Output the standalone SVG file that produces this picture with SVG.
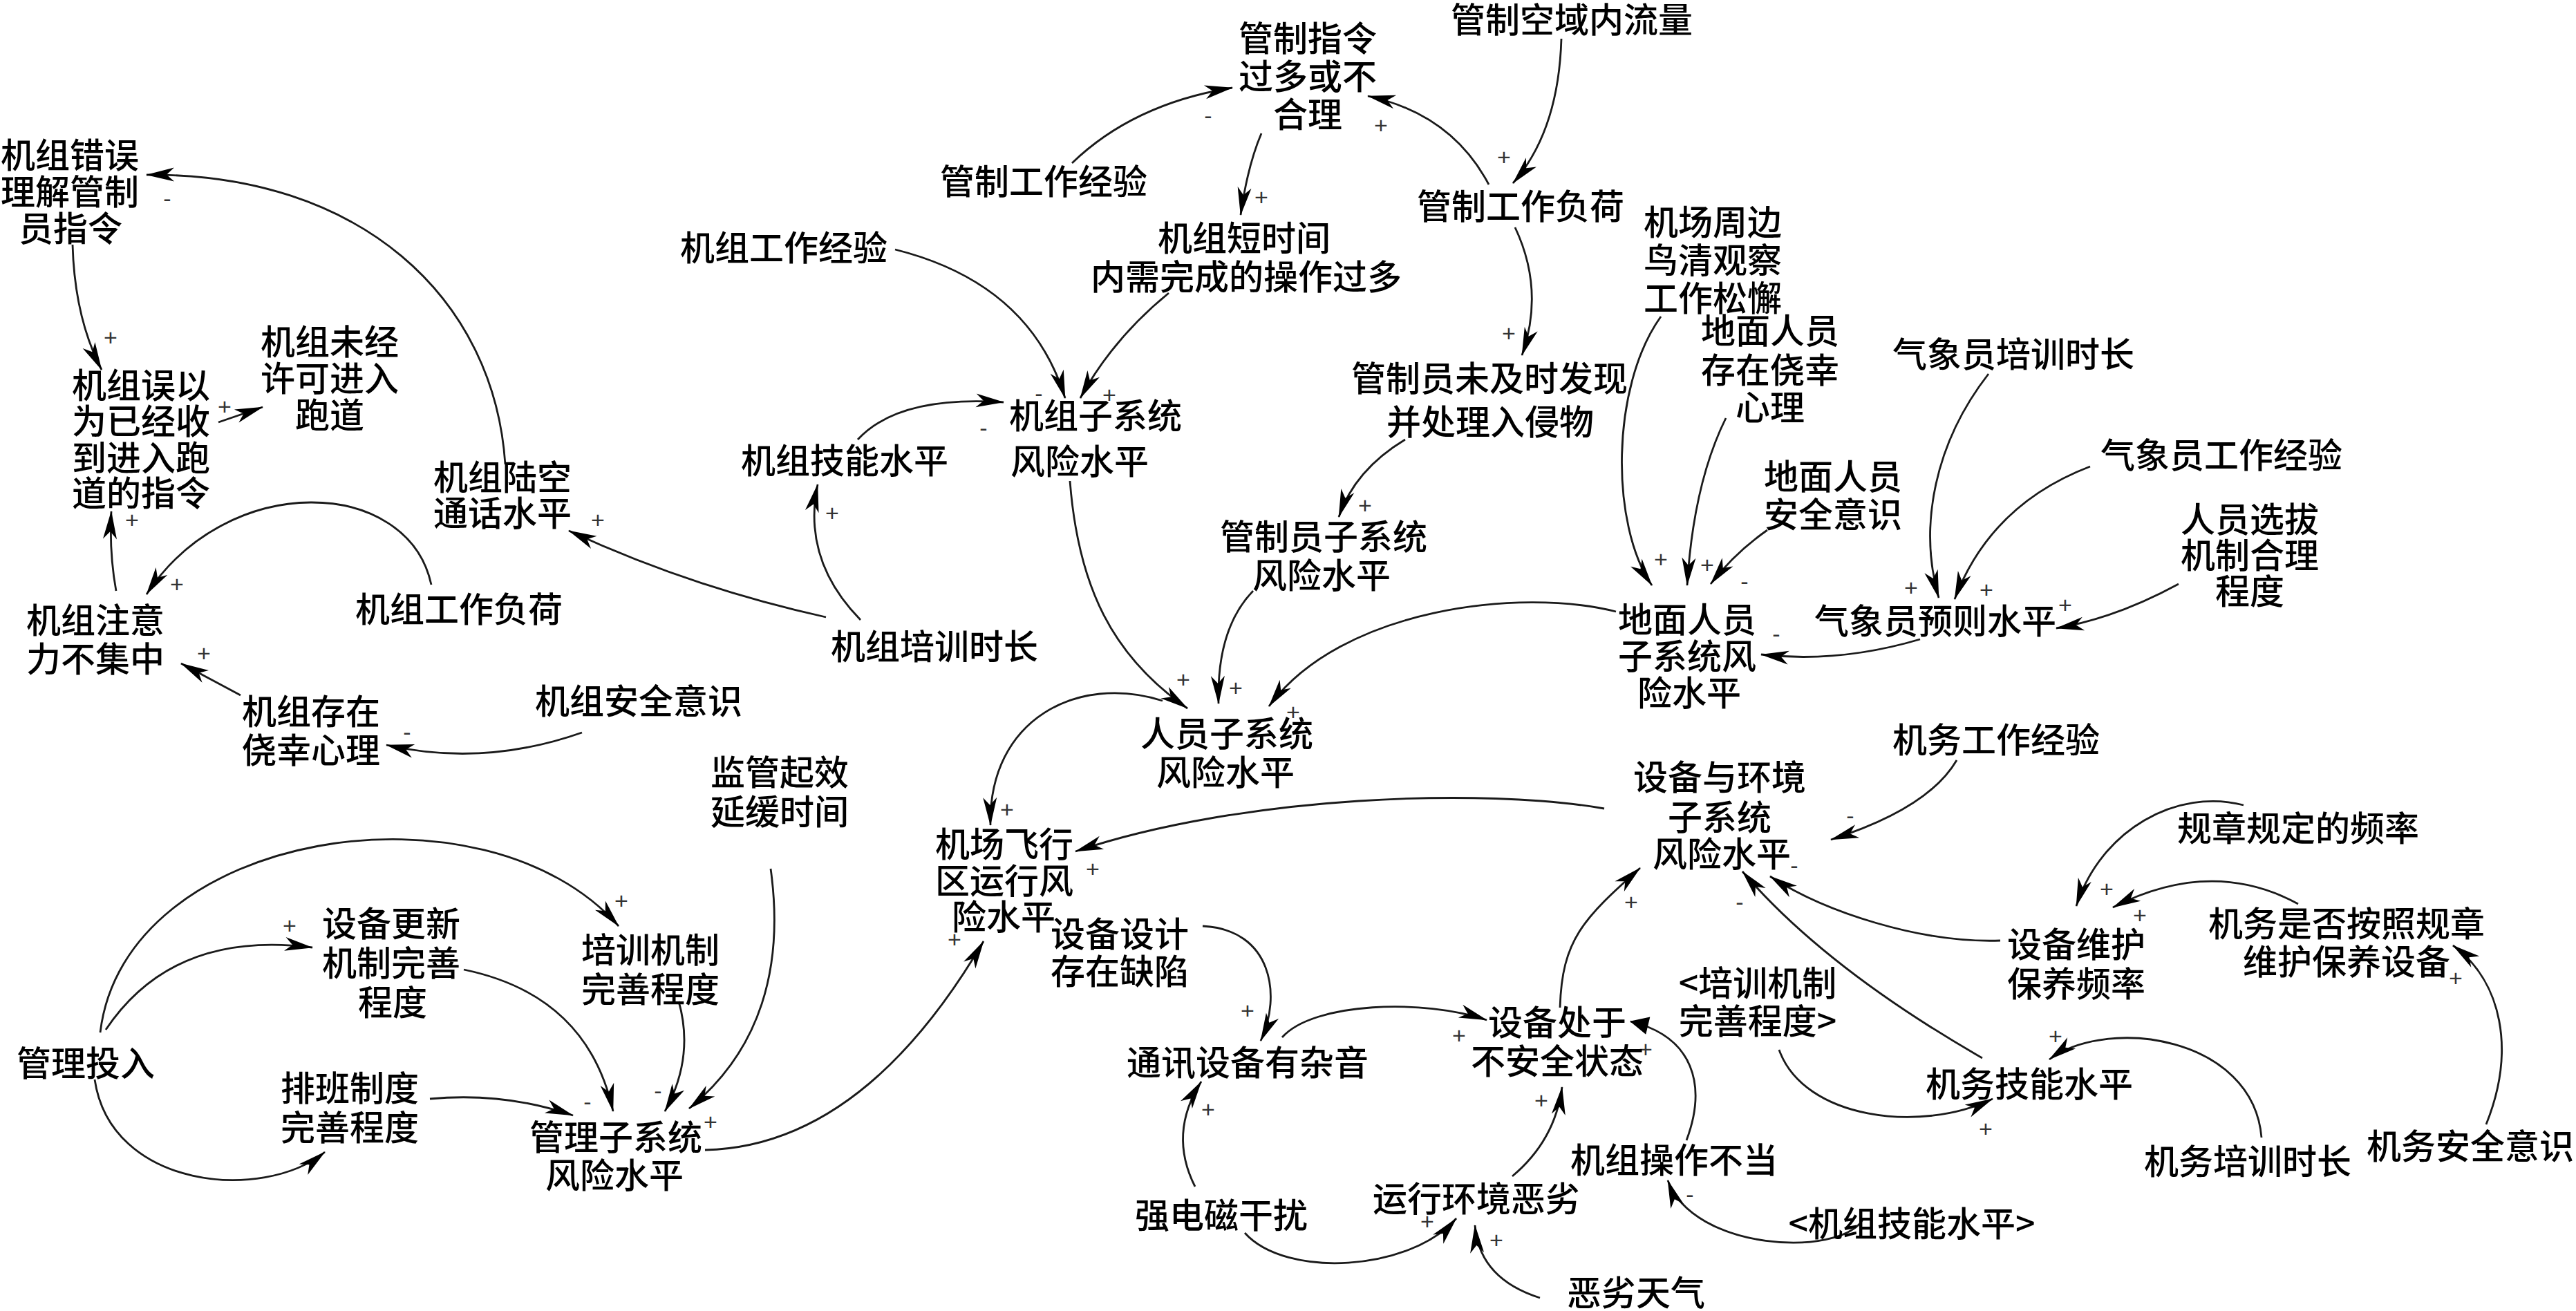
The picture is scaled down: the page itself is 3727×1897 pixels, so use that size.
<svg xmlns="http://www.w3.org/2000/svg" width="3727" height="1897" viewBox="0 0 3727 1897">
<defs>
<style>
.t{font-family:"Noto Sans CJK SC","Noto Sans CJK JP",sans-serif;font-size:50px;font-weight:500;fill:#000;text-anchor:middle}
.c{fill:none;stroke:#1a1a1a;stroke-width:2.8}
.a{marker-end:url(#ah)}
.f{marker-end:url(#fh)}
.p{font-family:"Liberation Sans",Arial,sans-serif;font-size:34px;fill:#333;text-anchor:middle}
</style>
<marker id="ah" markerUnits="userSpaceOnUse" markerWidth="46" markerHeight="26" viewBox="-43 -13 46 26" refX="0" refY="0" orient="auto"><path d="M1,0 L-40,-10 L-29,0 L-40,10 Z" fill="#000"/></marker>
<marker id="fh" markerUnits="userSpaceOnUse" markerWidth="34" markerHeight="34" viewBox="-30 -17 34 34" refX="0" refY="0" orient="auto"><path d="M1,0 L-26,-13 L-26,13 Z" fill="#000"/></marker>
</defs>
<rect width="3727" height="1897" fill="#fff"/>

<g id="connectors">
<path class="c a" d="M1551,236 Q1640,150 1783,127"/>
<path class="c a" d="M2154,267 Q2100,165 1979,139"/>
<path class="c a" d="M2259,56 Q2255,190 2189,265"/>
<path class="c a" d="M1825,193 Q1805,240 1795,311"/>
<path class="c a" d="M2192,329 Q2235,420 2202,514"/>
<path class="c a" d="M1295,361 Q1490,410 1541,576"/>
<path class="c a" d="M1691,424 Q1610,490 1563,576"/>
<path class="c a" d="M1241,636 Q1300,572 1452,582"/>
<path class="c a" d="M1245,897 Q1160,810 1183,701"/>
<path class="c a" d="M1195,893 Q1000,850 823,768"/>
<path class="c a" d="M731,672 C715,430 520,250 212,253"/>
<path class="c a" d="M105,354 Q108,460 147,535"/>
<path class="c a" d="M316,611 L380,589"/>
<path class="c a" d="M168,855 Q158,800 161,740"/>
<path class="c a" d="M624,846 C590,690 330,680 212,860"/>
<path class="c a" d="M348,1006 L262,960"/>
<path class="c a" d="M842,1060 Q700,1110 559,1078"/>
<path class="c a" d="M1548,696 C1560,850 1610,950 1718,1025"/>
<path class="c a" d="M1813,855 Q1760,910 1763,1018"/>
<path class="c a" d="M2338,885 C2200,850 1940,880 1836,1022"/>
<path class="c a" d="M1682,1014 C1560,975 1430,1040 1433,1194"/>
<path class="c a" d="M2321,1170 C2150,1140 1800,1150 1556,1232"/>
<path class="c a" d="M1020,1664 C1200,1660 1330,1520 1423,1362"/>
<path class="c a" d="M145,1494 C180,1200 700,1120 895,1340"/>
<path class="c a" d="M153,1490 Q250,1345 452,1371"/>
<path class="c a" d="M137,1562 C160,1720 380,1740 470,1667"/>
<path class="c a" d="M671,1403 Q850,1440 887,1608"/>
<path class="c a" d="M622,1590 Q730,1580 829,1614"/>
<path class="c a" d="M982,1449 Q1005,1530 962,1608"/>
<path class="c a" d="M1115,1257 C1135,1400 1100,1520 997,1604"/>
<path class="c a" d="M2403,458 C2330,560 2330,760 2390,847"/>
<path class="c a" d="M2497,605 Q2450,700 2441,847"/>
<path class="c a" d="M2557,767 Q2510,800 2475,845"/>
<path class="c a" d="M2778,925 Q2660,960 2548,947"/>
<path class="c a" d="M2877,541 C2800,640 2775,760 2805,865"/>
<path class="c a" d="M3024,675 Q2880,730 2828,867"/>
<path class="c a" d="M3152,845 Q3060,895 2975,909"/>
<path class="c a" d="M2831,1100 Q2790,1170 2649,1215"/>
<path class="c a" d="M3246,1165 C3150,1140 3040,1200 3004,1311"/>
<path class="c a" d="M3325,1308 Q3200,1240 3057,1313"/>
<path class="c a" d="M2894,1361 C2780,1365 2640,1320 2561,1268"/>
<path class="c a" d="M2868,1531 Q2640,1400 2521,1261"/>
<path class="c a" d="M3272,1646 C3260,1500 3050,1470 2965,1533"/>
<path class="c a" d="M3597,1627 C3640,1520 3620,1420 3549,1368"/>
<path class="c a" d="M2574,1519 C2610,1620 2780,1640 2883,1590"/>
<path class="c f" d="M2440,1650 C2470,1570 2450,1500 2359,1478"/>
<path class="c a" d="M2695,1765 C2660,1820 2450,1810 2413,1708"/>
<path class="c a" d="M1740,1340 C1840,1345 1855,1440 1824,1506"/>
<path class="c a" d="M1855,1501 C1900,1450 2060,1445 2151,1476"/>
<path class="c a" d="M2257,1458 C2260,1360 2290,1330 2373,1256"/>
<path class="c a" d="M1729,1717 Q1690,1640 1738,1565"/>
<path class="c a" d="M1801,1784 C1860,1850 2040,1840 2107,1763"/>
<path class="c a" d="M2228,1878 Q2140,1850 2134,1773"/>
<path class="c a" d="M2188,1702 Q2250,1650 2260,1573"/>
<path class="c a" d="M2033,636 Q1960,680 1937,748"/>
<text class="p" x="1748" y="179">-</text>
<text class="p" x="1998" y="193">+</text>
<text class="p" x="2176" y="239">+</text>
<text class="p" x="1825" y="297">+</text>
<text class="p" x="2183" y="494">+</text>
<text class="p" x="1503" y="581">-</text>
<text class="p" x="1605" y="583">+</text>
<text class="p" x="1423" y="631">-</text>
<text class="p" x="1204" y="754">+</text>
<text class="p" x="865" y="764">+</text>
<text class="p" x="242" y="299">-</text>
<text class="p" x="160" y="500">+</text>
<text class="p" x="325" y="600">+</text>
<text class="p" x="191" y="764">+</text>
<text class="p" x="256" y="857">+</text>
<text class="p" x="295" y="957">+</text>
<text class="p" x="589" y="1071">-</text>
<text class="p" x="1712" y="995">+</text>
<text class="p" x="1788" y="1007">+</text>
<text class="p" x="1871" y="1042">+</text>
<text class="p" x="1457" y="1183">+</text>
<text class="p" x="1581" y="1269">+</text>
<text class="p" x="1381" y="1371">+</text>
<text class="p" x="899" y="1315">+</text>
<text class="p" x="419" y="1351">+</text>
<text class="p" x="850" y="1606">-</text>
<text class="p" x="952" y="1590">-</text>
<text class="p" x="1028" y="1635">+</text>
<text class="p" x="2403" y="821">+</text>
<text class="p" x="2470" y="829">+</text>
<text class="p" x="2524" y="853">-</text>
<text class="p" x="2570" y="929">-</text>
<text class="p" x="2765" y="862">+</text>
<text class="p" x="2874" y="865">+</text>
<text class="p" x="2988" y="887">+</text>
<text class="p" x="2677" y="1192">-</text>
<text class="p" x="3048" y="1298">+</text>
<text class="p" x="3096" y="1336">+</text>
<text class="p" x="2596" y="1264">-</text>
<text class="p" x="2517" y="1317">-</text>
<text class="p" x="2974" y="1511">+</text>
<text class="p" x="3553" y="1427">+</text>
<text class="p" x="2873" y="1645">+</text>
<text class="p" x="2381" y="1530">+</text>
<text class="p" x="2445" y="1740">-</text>
<text class="p" x="1805" y="1474">+</text>
<text class="p" x="2111" y="1510">+</text>
<text class="p" x="2360" y="1317">+</text>
<text class="p" x="1748" y="1617">+</text>
<text class="p" x="2065" y="1779">+</text>
<text class="p" x="2165" y="1806">+</text>
<text class="p" x="2230" y="1604">+</text>
<text class="p" x="1975" y="743">+</text>
</g>

<g id="n01"><text class="t" x="2274" y="47">管制空域内流量</text></g>
<g id="n02"><text class="t"><tspan x="1892" y="74">管制指令</tspan><tspan x="1892" y="129">过多或不</tspan><tspan x="1892" y="184">合理</tspan></text></g>
<g id="n03"><text class="t" x="1510" y="281">管制工作经验</text></g>
<g id="n04"><text class="t"><tspan x="1800" y="363">机组短时间</tspan><tspan x="1803" y="419">内需完成的操作过多</tspan></text></g>
<g id="n05"><text class="t" x="2200" y="317">管制工作负荷</text></g>
<g id="n06"><text class="t" x="1134" y="377">机组工作经验</text></g>
<g id="n07"><text class="t"><tspan x="2478" y="340">机场周边</tspan><tspan x="2478" y="395">鸟清观察</tspan><tspan x="2478" y="450">工作松懈</tspan></text></g>
<g id="n08"><text class="t"><tspan x="101" y="243">机组错误</tspan><tspan x="101" y="296">理解管制</tspan><tspan x="102" y="349">员指令</tspan></text></g>
<g id="n09"><text class="t"><tspan x="477" y="513">机组未经</tspan><tspan x="477" y="566">许可进入</tspan><tspan x="477" y="619">跑道</tspan></text></g>
<g id="n10"><text class="t"><tspan x="204" y="576">机组误以</tspan><tspan x="204" y="628">为已经收</tspan><tspan x="204" y="681">到进入跑</tspan><tspan x="204" y="732">道的指令</tspan></text></g>
<g id="n11"><text class="t"><tspan x="2155" y="566">管制员未及时发现</tspan><tspan x="2156" y="629">并处理入侵物</tspan></text></g>
<g id="n12"><text class="t"><tspan x="2561" y="497">地面人员</tspan><tspan x="2561" y="554">存在侥幸</tspan><tspan x="2561" y="608">心理</tspan></text></g>
<g id="n13"><text class="t" x="2913" y="531">气象员培训时长</text></g>
<g id="n14"><text class="t" x="1222" y="685">机组技能水平</text></g>
<g id="n15"><text class="t"><tspan x="1585" y="620">机组子系统</tspan><tspan x="1562" y="686">风险水平</tspan></text></g>
<g id="n16"><text class="t"><tspan x="727" y="709">机组陆空</tspan><tspan x="727" y="761">通话水平</tspan></text></g>
<g id="n17"><text class="t" x="3214" y="677">气象员工作经验</text></g>
<g id="n18"><text class="t"><tspan x="2652" y="708">地面人员</tspan><tspan x="2652" y="763">安全意识</tspan></text></g>
<g id="n19"><text class="t"><tspan x="3255" y="770">人员选拔</tspan><tspan x="3255" y="822">机制合理</tspan><tspan x="3255" y="874">程度</tspan></text></g>
<g id="n20"><text class="t"><tspan x="1915" y="795">管制员子系统</tspan><tspan x="1912" y="851">风险水平</tspan></text></g>
<g id="n21"><text class="t"><tspan x="138" y="916">机组注意</tspan><tspan x="138" y="972">力不集中</tspan></text></g>
<g id="n22"><text class="t" x="664" y="900">机组工作负荷</text></g>
<g id="n23"><text class="t" x="1352" y="954">机组培训时长</text></g>
<g id="n24"><text class="t"><tspan x="2441" y="915">地面人员</tspan><tspan x="2441" y="968">子系统风</tspan><tspan x="2444" y="1021">险水平</tspan></text></g>
<g id="n25"><text class="t" x="2800" y="917">气象员预则水平</text></g>
<g id="n26"><text class="t" x="924" y="1033">机组安全意识</text></g>
<g id="n27"><text class="t"><tspan x="450" y="1048">机组存在</tspan><tspan x="450" y="1104">侥幸心理</tspan></text></g>
<g id="n28"><text class="t"><tspan x="1775" y="1080">人员子系统</tspan><tspan x="1773" y="1136">风险水平</tspan></text></g>
<g id="n29"><text class="t"><tspan x="1128" y="1136">监管起效</tspan><tspan x="1128" y="1193">延缓时间</tspan></text></g>
<g id="n30"><text class="t" x="2888" y="1089">机务工作经验</text></g>
<g id="n31"><text class="t"><tspan x="2488" y="1143">设备与环境</tspan><tspan x="2488" y="1201">子系统</tspan><tspan x="2491" y="1254">风险水平</tspan></text></g>
<g id="n32"><text class="t" x="3325" y="1217">规章规定的频率</text></g>
<g id="n33"><text class="t"><tspan x="1453" y="1240">机场飞行</tspan><tspan x="1453" y="1293">区运行风</tspan><tspan x="1452" y="1345">险水平</tspan></text></g>
<g id="n34"><text class="t"><tspan x="1620" y="1370">设备设计</tspan><tspan x="1620" y="1424">存在缺陷</tspan></text></g>
<g id="n35"><text class="t"><tspan x="566" y="1355">设备更新</tspan><tspan x="566" y="1412">机制完善</tspan><tspan x="568" y="1469">程度</tspan></text></g>
<g id="n36"><text class="t"><tspan x="941" y="1393">培训机制</tspan><tspan x="941" y="1450">完善程度</tspan></text></g>
<g id="n37"><text class="t"><tspan x="3004" y="1385">设备维护</tspan><tspan x="3004" y="1442">保养频率</tspan></text></g>
<g id="n38"><text class="t"><tspan x="3395" y="1355">机务是否按照规章</tspan><tspan x="3395" y="1410">维护保养设备</tspan></text></g>
<g id="n39"><text class="t"><tspan x="2543" y="1441">&lt;培训机制</tspan><tspan x="2543" y="1496">完善程度&gt;</tspan></text></g>
<g id="n40"><text class="t" x="124" y="1557">管理投入</text></g>
<g id="n41"><text class="t" x="1805" y="1556">通讯设备有杂音</text></g>
<g id="n42"><text class="t"><tspan x="2253" y="1498">设备处于</tspan><tspan x="2253" y="1554">不安全状态</tspan></text></g>
<g id="n43"><text class="t" x="2936" y="1587">机务技能水平</text></g>
<g id="n44"><text class="t"><tspan x="506" y="1593">排班制度</tspan><tspan x="506" y="1650">完善程度</tspan></text></g>
<g id="n45"><text class="t"><tspan x="891" y="1664">管理子系统</tspan><tspan x="889" y="1719">风险水平</tspan></text></g>
<g id="n46"><text class="t" x="2422" y="1697">机组操作不当</text></g>
<g id="n47"><text class="t" x="3252" y="1699">机务培训时长</text></g>
<g id="n48"><text class="t" x="3574" y="1677">机务安全意识</text></g>
<g id="n49"><text class="t" x="1767" y="1777">强电磁干扰</text></g>
<g id="n50"><text class="t" x="2136" y="1753">运行环境恶劣</text></g>
<g id="n51"><text class="t" x="2766" y="1789">&lt;机组技能水平&gt;</text></g>
<g id="n52"><text class="t" x="2367" y="1889">恶劣天气</text></g>
</svg>
